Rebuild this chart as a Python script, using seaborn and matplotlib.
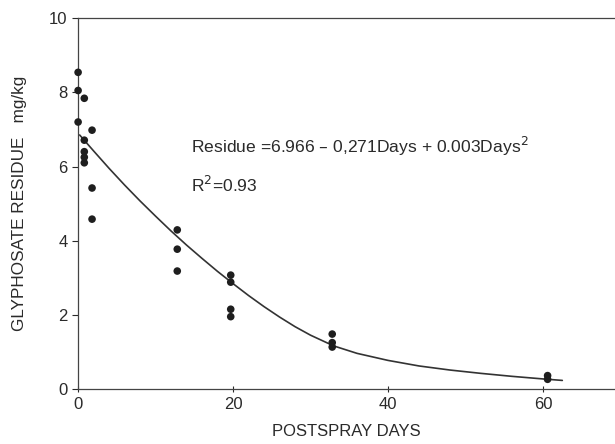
import numpy as np
import pandas as pd
import matplotlib
matplotlib.use("Agg")
import matplotlib.pyplot as plt
import seaborn as sns

days = [0, 0, 0,
        0.8, 0.8, 0.8, 0.8, 0.8,
        1.8, 1.8, 1.8,
        12.8, 12.8, 12.8,
        19.7, 19.7, 19.7, 19.7,
        32.8, 32.8, 32.8,
        60.6, 60.6]
residue = [8.54, 8.05, 7.2,
           7.84, 6.71, 6.4, 6.25, 6.1,
           6.98, 5.42, 4.58,
           4.29, 3.77, 3.18,
           3.07, 2.88, 2.15, 1.95,
           1.48, 1.25, 1.13,
           0.36, 0.26]

# fitted curve as drawn in the figure
fit_days = [0.2, 2, 4, 6, 8, 10, 12, 14, 16, 18, 20, 22, 24, 26, 28, 30, 33, 36,
            40, 44, 48, 52, 56, 60, 62.5]
fit_residue = [6.85, 6.42, 5.95, 5.5, 5.07, 4.66, 4.26, 3.88, 3.52, 3.17, 2.84, 2.52,
               2.22, 1.94, 1.68, 1.45, 1.16, 0.96, 0.77, 0.62, 0.51, 0.42, 0.34, 0.27, 0.23]

x_ticks = [0, 20, 40, 60]
y_ticks = [0, 2, 4, 6, 8, 10]

df = pd.DataFrame({'days': days, 'residue': residue})
fit = pd.DataFrame({'days': fit_days, 'residue': fit_residue})

sns.set_style("ticks")
plt.rcParams['font.family'] = ['Liberation Sans', 'DejaVu Sans']

fig = plt.figure(figsize=(6.15, 4.44), dpi=100)
ax = fig.add_axes([0.127, 0.124, 0.873, 0.835])

sns.lineplot(data=fit, x='days', y='residue', color='#333333', linewidth=1.2, ax=ax)
sns.scatterplot(data=df, x='days', y='residue', color='#1e1e1e', s=30, edgecolor='none',
                ax=ax, clip_on=False, zorder=3)

ax.set_xlim(0, 69.3)
ax.set_ylim(0, 10)
ax.set_xticks(x_ticks)
ax.set_yticks(y_ticks)
ax.tick_params(axis='both', labelsize=12, colors='#2a2a2a', length=4, width=0.8)
ax.tick_params(axis='x', direction='inout')
for side in ['left', 'bottom', 'top']:
    ax.spines[side].set_color('#444444')
    ax.spines[side].set_linewidth(0.9)
ax.spines['right'].set_visible(False)

ax.set_xlabel("POSTSPRAY DAYS", fontsize=12, color='#2a2a2a', labelpad=9)
ax.set_ylabel("GLYPHOSATE RESIDUE   mg/kg", fontsize=12.3, color='#2a2a2a', labelpad=16)

ax.text(14.6, 6.55, "Residue =6.966 \u2013 0,271Days + 0.003Days$^2$", fontsize=12.6,
        color='#2a2a2a', va='center')
ax.text(14.6, 5.5, "R$^2$=0.93", fontsize=12.6, color='#2a2a2a', va='center')

fig.savefig("out.png", dpi=100)
